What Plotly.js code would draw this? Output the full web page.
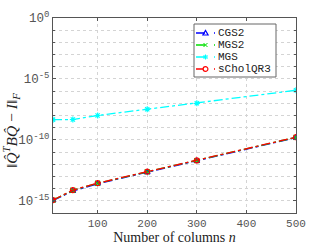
<!DOCTYPE html>
<html><head><meta charset="utf-8">
<script src="https://cdn.plot.ly/plotly-3.0.1.min.js"></script>
<style>html,body{margin:0;padding:0;background:#fff}#c{width:327px;height:245px}</style>
</head><body><div id="c"></div>
<script>
const n = [10, 50, 100, 200, 300, 500];
const logCGS2 = [-14.97, -14.2, -13.6, -12.66, -11.74, -9.82];
const logMGS2 = [-14.95, -14.13, -13.56, -12.62, -11.7, -9.79];
const logMGS = [-8.34, -8.33, -8.0, -7.49, -7.0, -5.93];
const logSChol = [-14.94, -14.12, -13.55, -12.61, -11.69, -9.78];
const seriesNames = ['CGS2', 'MGS2', 'MGS', 'sCholQR3'];
const xTicks = [100, 200, 300, 400, 500];
const yLabelDecades = [0, -5, -10, -15];
const yDecades = [0,-1,-2,-3,-4,-5,-6,-7,-8,-9,-10,-11,-12,-13,-14,-15,-16];

const pw = (v) => v.map(e => Math.pow(10, e));
const colors = ['#0000ff', '#00e000', '#00ffff', '#ff0000'];
const symbols = ['triangle-up-open', 'x-thin-open', 'asterisk-open', 'circle-open'];
const ys = [logCGS2, logMGS2, logMGS, logSChol];

const traces = ys.map((y, i) => ({
  x: n, y: pw(y), type: 'scatter', mode: 'lines+markers', name: seriesNames[i],
  showlegend: false,
  line: {color: colors[i], width: 1.3, dash: 'dashdot'},
  marker: {symbol: symbols[i], color: colors[i], size: 5, line: {color: colors[i], width: 1.2}}
}));

const L = 53, T = 18, W = 243, H = 195;
const px = (x) => (x - L) / W, py = (y) => (T + H - y) / H;
const shapes = [{type: 'rect', xref: 'paper', yref: 'paper', x0: px(194), x1: px(276), y0: py(24), y1: py(77),
  line: {color: '#666', width: 1}, fillcolor: '#fff', layer: 'above'}];
const annotations = [];
const rows = [33, 45, 57, 69];
rows.forEach((ry, i) => {
  shapes.push({type: 'line', xref: 'paper', yref: 'paper', x0: px(196), x1: px(215), y0: py(ry), y1: py(ry),
    line: {color: colors[i], width: 1.3, dash: 'dash'}, layer: 'above'});
  const cx = 205.5, cy = ry;
  if (i === 0) {
    shapes.push({type: 'path', xref: 'paper', yref: 'paper', layer: 'above',
      path: `M${px(cx - 2.6)},${py(cy + 2)} L${px(cx + 2.6)},${py(cy + 2)} L${px(cx)},${py(cy - 2.6)} Z`,
      line: {color: colors[i], width: 1.2}});
  } else if (i === 3) {
    shapes.push({type: 'circle', xref: 'paper', yref: 'paper', layer: 'above',
      x0: px(cx - 2.4), x1: px(cx + 2.4), y0: py(cy + 2.4), y1: py(cy - 2.4),
      line: {color: colors[i], width: 1.2}, fillcolor: '#fff'});
  } else {
    [[-2, -2, 2, 2], [-2, 2, 2, -2]].concat(i === 2 ? [[0, -2.5, 0, 2.5], [-2.5, 0, 2.5, 0]] : []).forEach(s => {
      shapes.push({type: 'line', xref: 'paper', yref: 'paper', layer: 'above',
        x0: px(cx + s[0]), y0: py(cy + s[1]), x1: px(cx + s[2]), y1: py(cy + s[3]),
        line: {color: colors[i], width: 1}});
    });
  }
  annotations.push({xref: 'paper', yref: 'paper', x: px(215.5), y: py(ry), xanchor: 'left', yanchor: 'middle',
    text: seriesNames[i], showarrow: false, font: {family: 'Liberation Mono, Courier New, monospace', size: 11, color: '#222'}});
});
// y-axis title as a rotated annotation at a fixed spot
annotations.push({xref: 'paper', yref: 'paper', x: px(11), y: py(131), xanchor: 'center', yanchor: 'middle',
  textangle: -90, showarrow: false,
  text: '‖<i>Q̂</i><sup><i>T</i></sup><i>BQ̂</i> − <i>I</i>‖<sub><i>F</i></sub>',
  font: {family: 'Liberation Serif, Times New Roman, serif', size: 15.5, color: '#222'}});

const mono = 'Liberation Mono, Courier New, monospace';
const layout = {
  width: 327, height: 245,
  margin: {l: L, r: 327 - L - W, t: T, b: 245 - T - H, pad: 0},
  paper_bgcolor: '#fff', plot_bgcolor: '#fff',
  showlegend: false,
  xaxis: {
    range: [10, 500], tickvals: xTicks, ticktext: xTicks.map(String),
    showgrid: true, gridcolor: '#d4d4d4', griddash: 'dot', gridwidth: 1,
    zeroline: false, showline: true, linecolor: '#555', linewidth: 1, mirror: 'ticks',
    ticks: 'inside', ticklen: 3, tickcolor: '#555',
    tickfont: {family: mono, size: 11, color: '#555'},
    title: {text: 'Number of columns <i>n</i>', font: {family: 'Liberation Serif, Times New Roman, serif', size: 14, color: '#222'}, standoff: 1}
  },
  yaxis: {
    type: 'log', range: [-16, 0],
    tickvals: yLabelDecades.map(d => Math.pow(10, d)),
    ticktext: yLabelDecades.map(d => '10<sup><span style="font-size:9px">' + (d === 0 ? '0' : '-' + (-d)) + '</span></sup>'),
    showgrid: true, gridcolor: '#d4d4d4', griddash: 'dot', gridwidth: 1,
    minor: {tickvals: yDecades.map(d => Math.pow(10, d)), showgrid: true, gridcolor: '#d4d4d4', griddash: 'dot', gridwidth: 1, ticks: 'inside', ticklen: 2, tickcolor: '#555'},
    zeroline: false, showline: true, linecolor: '#555', linewidth: 1, mirror: 'ticks',
    ticks: 'inside', ticklen: 3, tickcolor: '#555',
    tickfont: {family: mono, size: 12.5, color: '#555'}
  },
  shapes: shapes, annotations: annotations
};
Plotly.newPlot('c', traces, layout, {displayModeBar: false, staticPlot: true});
</script></body></html>
